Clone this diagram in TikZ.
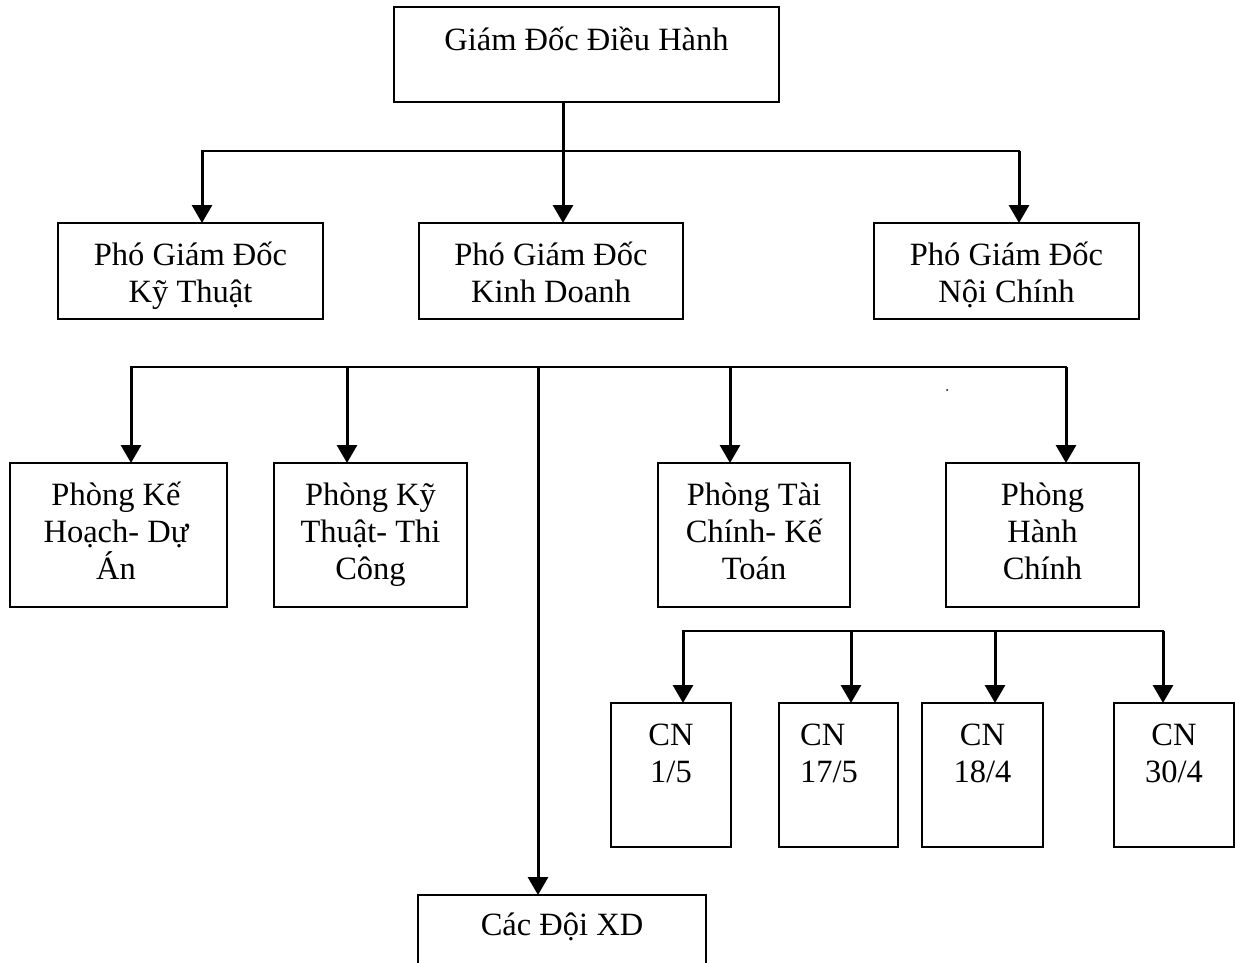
\documentclass[tikz,border=0pt]{standalone}
\usepackage{fontspec}
\setmainfont{Liberation Serif}
\usetikzlibrary{arrows.meta}
\begin{document}
\begin{tikzpicture}[x=1pt,y=-1pt,
  box/.style={draw, line width=2pt, fill=white, inner sep=0pt, outer sep=0pt},
  lbl/.style={anchor=north, inner sep=0pt, align=center, font=\fontsize{32.5}{37}\selectfont},
  bus/.style={line width=2pt, line cap=rect},
  feed/.style={line width=3pt, -{Triangle[width=20pt,length=18pt]}}]
\useasboundingbox (0,0) rectangle (1236,963);
\clip (0,0) rectangle (1236,963);

% --- boxes ---
\node[box, minimum width=385pt, minimum height=95pt] (gd) at (586.5,54.5) {};
\node[box, minimum width=265pt, minimum height=96pt] (kt) at (190.5,271) {};
\node[box, minimum width=264pt, minimum height=96pt] (kd) at (551,271) {};
\node[box, minimum width=265pt, minimum height=96pt] (nc) at (1006.5,271) {};
\node[box, minimum width=217pt, minimum height=144pt] (p1) at (118.5,535) {};
\node[box, minimum width=193pt, minimum height=144pt] (p2) at (370.5,535) {};
\node[box, minimum width=192pt, minimum height=144pt] (p3) at (754,535) {};
\node[box, minimum width=193pt, minimum height=144pt] (p4) at (1042.5,535) {};
\node[box, minimum width=120pt, minimum height=144pt] (cn1) at (671,775) {};
\node[box, minimum width=119pt, minimum height=144pt] (cn2) at (838.5,775) {};
\node[box, minimum width=121pt, minimum height=144pt] (cn3) at (982.5,775) {};
\node[box, minimum width=120pt, minimum height=144pt] (cn4) at (1174,775) {};
\node[box, minimum width=288pt, minimum height=105pt] (xd) at (562,947.5) {};

% --- labels (strut fixes the first baseline 34pt below the node top) ---
\node[lbl] (gdt) at (586.5,16) {\rule{0pt}{34pt}Giám Đốc Điều Hành};
\node[lbl] (ktt) at (190.5,231) {\rule{0pt}{34pt}Phó Giám Đốc\\Kỹ Thuật};
\node[lbl] (kdt) at (551,231) {\rule{0pt}{34pt}Phó Giám Đốc\\Kinh Doanh};
\node[lbl] (nct) at (1006.5,231) {\rule{0pt}{34pt}Phó Giám Đốc\\Nội Chính};
\node[lbl] (p1t) at (116,471) {\rule{0pt}{34pt}Phòng Kế\\Hoạch- Dự\\Án};
\node[lbl] (p2t) at (370.5,471) {\rule{0pt}{34pt}Phòng Kỹ\\Thuật- Thi\\Công};
\node[lbl] (p3t) at (754,471) {\rule{0pt}{34pt}Phòng Tài\\Chính- Kế\\Toán};
\node[lbl] (p4t) at (1042.5,471) {\rule{0pt}{34pt}Phòng\\Hành\\Chính};
\node[lbl] (cn1t) at (671,711) {\rule{0pt}{34pt}CN\\1/5};
\node[lbl, anchor=north west, align=left] (cn2t) at (800,711) {\rule{0pt}{34pt}CN\\17/5};
\node[lbl] (cn3t) at (982.5,711) {\rule{0pt}{34pt}CN\\18/4};
\node[lbl] (cn4t) at (1174,711) {\rule{0pt}{34pt}CN\\30/4};
\node[lbl] (xdt) at (562,901) {\rule{0pt}{34pt}Các Đội XD};

% --- first level: director to deputies ---
\coordinate (j0) at (563,151);
\coordinate (j1) at (202,151);
\coordinate (j2) at (1019,151);
\draw[bus] (j1) -- (j2);
\draw[feed] (gd.south -| j0) -- (j0 |- kd.north);
\draw[feed] (j1) -- (j1 |- kt.north);
\draw[feed] (j2) -- (j2 |- nc.north);

% --- second level: departments and construction teams ---
\coordinate (k1) at (131,367);
\coordinate (k2) at (347,367);
\coordinate (k3) at (538,367);
\coordinate (k4) at (730,367);
\coordinate (k5) at (1066,367);
\draw[bus] (k1) -- (k5);
\draw[feed] (k1) -- (k1 |- p1.north);
\draw[feed] (k2) -- (k2 |- p2.north);
\draw[feed] (k3) -- (k3 |- xd.north);
\draw[feed] (k4) -- (k4 |- p3.north);
\draw[feed] (k5) -- (k5 |- p4.north);

% --- third level: branches ---
\coordinate (m1) at (683,631);
\coordinate (m2) at (851,631);
\coordinate (m3) at (995,631);
\coordinate (m4) at (1163,631);
\draw[bus] (m1) -- (m4);
\draw[feed] (m1) -- (m1 |- cn1.north);
\draw[feed] (m2) -- (m2 |- cn2.north);
\draw[feed] (m3) -- (m3 |- cn3.north);
\draw[feed] (m4) -- (m4 |- cn4.north);

% stray dot
\fill (947,390) circle (1pt);
\end{tikzpicture}
\end{document}
